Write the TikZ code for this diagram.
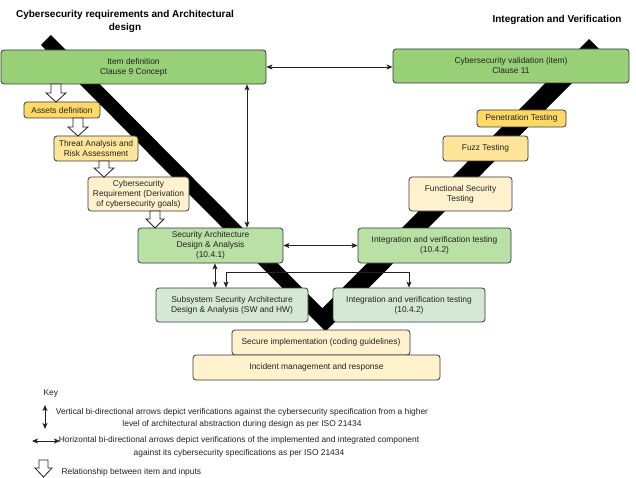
\documentclass[tikz,border=0pt]{standalone}
\usepackage{fontspec}
\setmainfont{Liberation Sans}
\usetikzlibrary{arrows.meta}

\definecolor{greenA}{HTML}{97D077}
\definecolor{greenB}{HTML}{B9E0A5}
\definecolor{greenC}{HTML}{D5E8D4}
\definecolor{yelA}{HTML}{FFD966}
\definecolor{yelB}{HTML}{FFE599}
\definecolor{yelC}{HTML}{FFF2CC}
\definecolor{edge}{HTML}{36393D}
\definecolor{ink}{HTML}{222222}

% hollow down-pointing block arrow: centre x, top y, bottom y, shaft half-width, head half-width
\newcommand{\hollowdown}[5]{%
  \draw[hollow] (#1-#4,#2) -- (#1+#4,#2) -- (#1+#4,#3-9) -- (#1+#5,#3-9)
    -- (#1,#3) -- (#1-#5,#3-9) -- (#1-#4,#3-9) -- cycle;}

\begin{document}
\begin{tikzpicture}[x=1pt,y=-1pt,
  font=\fontsize{8.4}{10}\selectfont,
  box/.style={draw=edge, line width=0.8pt, rounded corners=3pt,
    align=center, inner sep=0pt, text=ink},
  biarrow/.style={draw=ink, line width=0.8pt,
    {Stealth[length=6pt,width=5pt,inset=1.5pt]}-{Stealth[length=6pt,width=5pt,inset=1.5pt]}},
  hollow/.style={draw=ink, line width=0.8pt, fill=white, line join=miter},
  title/.style={font=\fontsize{10}{13}\selectfont\bfseries, align=center, text=black},
  keytext/.style={font=\fontsize{8.4}{12.5}\selectfont, align=center, text=ink}
]
\useasboundingbox (0,0) rectangle (636,478);
\fill[white] (0,0) rectangle (636,478);

% the V band behind everything
\fill[black] (51,35) -- (41,45) -- (325.5,331.5) -- (602.4,52.4) -- (589,39) -- (322.4,308.3) -- cycle;

% titles
\node[title] (ttl) at (125,21.5) {Cybersecurity requirements and Architectural\\design};
\node[title] (ttr) at (557,20) {Integration and Verification};

% left branch
\node[box, fill=greenA, minimum width=265, minimum height=34] (item) at (133.5,67) {Item definition\\Clause 9 Concept};
\node[box, fill=yelA, minimum width=76, minimum height=16] (assets) at (62,110) {Assets definition};
\node[box, fill=yelB, minimum width=84, minimum height=25] (threat) at (96,148.5) {Threat Analysis and\\Risk Assessment};
\node[box, fill=yelC, minimum width=101, minimum height=34] (creq) at (138.5,194) {Cybersecurity\\Requirement (Derivation\\of cybersecurity goals)};
\node[box, fill=greenB, minimum width=145, minimum height=35] (sa) at (210.5,245.5) {Security Architecture\\Design \& Analysis\\(10.4.1)};
\node[box, fill=greenC, minimum width=152, minimum height=34] (sub) at (232,305) {Subsystem Security Architecture\\Design \& Analysis (SW and HW)};

% right branch
\node[box, fill=greenA, minimum width=236, minimum height=34] (val) at (511,66) {Cybersecurity validation (item)\\Clause 11};
\node[box, fill=yelA, minimum width=89, minimum height=17] (pen) at (521.5,118.5) {Penetration Testing};
\node[box, fill=yelB, minimum width=85, minimum height=25] (fuzz) at (485.5,148.5) {Fuzz Testing};
\node[box, fill=yelC, minimum width=103, minimum height=34] (func) at (460.5,194) {Functional Security\\Testing};
\node[box, fill=greenB, minimum width=153, minimum height=35] (ivt1) at (434.5,245.5) {Integration and verification testing\\(10.4.2)};
\node[box, fill=greenC, minimum width=152, minimum height=34] (ivt2) at (409,305) {Integration and verification testing\\(10.4.2)};

% bottom
\node[box, fill=yelC, minimum width=178, minimum height=25] (impl) at (321,342.5) {Secure implementation (coding guidelines)};
\node[box, fill=yelC, minimum width=247, minimum height=25] (incident) at (316.5,367.5) {Incident management and response};

% verification connectors
\coordinate (vx1) at (247,0);
\coordinate (vx2) at (215,0);
\coordinate (vx3) at (226,0);
\coordinate (hy3) at (0,272);
\draw[biarrow] (item.east) -- (item.east -| val.west);
\draw[biarrow] (vx1 |- item.south) -- (vx1 |- sa.north);
\draw[biarrow] (sa.east) -- (ivt1.west);
\draw[biarrow] (vx2 |- sa.south) -- (vx2 |- sub.north);
\draw[biarrow] (vx3 |- sub.north) -- (vx3 |- hy3) -| (ivt2.north);

% inputs flowing into the item
\hollowdown{56}{84}{102}{5}{10}
\hollowdown{78}{118}{136}{5}{10}
\hollowdown{104}{161}{177}{5}{10}
\hollowdown{155}{211}{228}{5}{9}

% key
\node[text=ink, anchor=west] (key) at (40,393) {Key};
\coordinate (kv1) at (45,405);
\coordinate (kv2) at (45,429);
\draw[biarrow] (kv1) -- (kv2);
\node[keytext] (k1) at (242,418.5) {Vertical bi-directional arrows depict verifications against the cybersecurity specification from a higher\\level of architectural abstraction during design as per ISO 21434};
\coordinate (kh1) at (32,441);
\coordinate (kh2) at (60,441);
\draw[biarrow] (kh1) -- (kh2);
\node[keytext] (k2) at (239,447) {Horizontal bi-directional arrows depict verifications of the implemented and integrated component\\against its cybersecurity specifications as per ISO 21434};
\hollowdown{43.5}{460}{477}{4.5}{8.5}
\node[text=ink, anchor=west] (k3) at (58,472) {Relationship between item and inputs};
\end{tikzpicture}
\end{document}
